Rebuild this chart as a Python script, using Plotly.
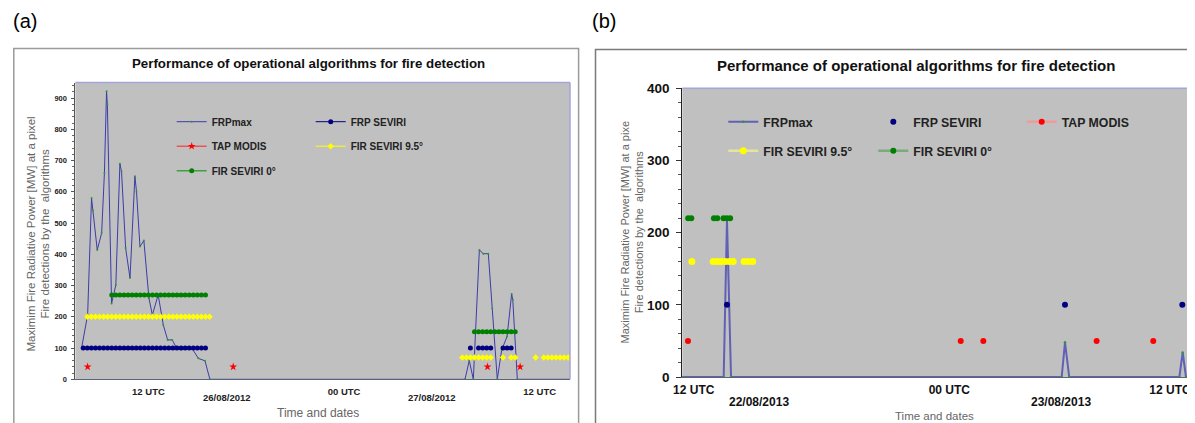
import plotly.graph_objects as go

# the page body adds an 8 px margin; the figure fills the rest of the 1195x423 window
OFF = 8
W, H = 1195 - OFF, 423 - OFF
FONT = "Liberation Sans, Arial, sans-serif"

# ---------------- Panel (a) data (x = hours after 12 UTC, 25/08/2012) ----------------
a_frp_t = [-4.1, -3.73, -3.49, -3.4, -3.14, -2.87, -2.7, -2.57, -2.52, -2.26, -2.0, -1.75, -1.65,
           -1.4, -1.13, -0.83, -0.73, -0.52, -0.28, 0.03, 0.24, 0.6, 0.91, 1.18, 1.46, 1.73, 2.03,
           2.44, 2.7, 3.06, 3.47, 3.77, 19.42, 19.68, 19.93, 20.3, 20.54, 20.85, 21.09, 21.4,
           21.67, 22.0, 22.28, 22.35, 22.63, 25.86]
a_frp_v = [100, 206, 580, 540, 414, 468, 660, 922, 880, 243, 302, 690, 665,
           420, 324, 650, 600, 425, 444, 260, 206, 270, 174, 126, 126, 100, 95,
           104, 97, 67, 59, 0, 0, 60, 0, 414, 402, 402, 227, 0,
           94, 137, 273, 255, 0, 0]

a_sev_t = [-4.0, -3.75, -3.5, -3.25, -3.0, -2.75, -2.5, -2.25, -2.0, -1.75, -1.5, -1.25, -1.0,
           -0.75, -0.5, -0.25, 0.0, 0.25, 0.5, 0.75, 1.0, 1.25, 1.5, 1.75, 2.0, 2.25, 2.5, 2.75,
           3.0, 3.25, 3.5, 11.0, 19.75, 20.0, 20.25, 20.5, 20.75, 21.0, 21.4, 21.75, 22.0, 22.25]
a_sev_v = [100, 100, 100, 100, 100, 100, 100, 100, 100, 100, 100, 100, 100,
           100, 100, 100, 100, 100, 100, 100, 100, 100, 100, 100, 100, 100, 100, 100,
           100, 100, 100, None, 100, None, 100, 100, 100, 100, None, 100, 100, 100]

a_tap_t = [-3.73, 0.7, 5.2, 13.0, 20.8, 21.8, 22.8]
a_tap_v = [40, None, 40, None, 40, None, 40]

a_fir95_t = [-3.75, -3.5, -3.25, -3.0, -2.75, -2.5, -2.25, -2.0, -1.75, -1.5, -1.25, -1.0, -0.75,
             -0.5, -0.25, 0.0, 0.25, 0.5, 0.75, 1.0, 1.25, 1.5, 1.75, 2.0, 2.25, 2.5, 2.75, 3.0,
             3.25, 3.5, 3.75, 11.0, 19.25, 19.5, 19.75, 20.0, 20.25, 20.5, 20.75, 21.0, 21.4,
             21.75, 22.0, 22.25, 22.5, 23.1, 23.75, 24.0, 24.25, 24.5, 24.75, 25.0, 25.25, 25.5, 25.75]
a_fir95_v = [200, 200, 200, 200, 200, 200, 200, 200, 200, 200, 200, 200, 200,
             200, 200, 200, 200, 200, 200, 200, 200, 200, 200, 200, 200, 200, 200, 200,
             200, 200, 200, None, 70, 70, 70, 70, 70, 70, 70, 70, None,
             70, None, 70, 70, None, 70, None, 70, 70, 70, 70, 70, 70, 70]

a_fir0_t = [-2.25, -2.0, -1.75, -1.5, -1.25, -1.0, -0.75, -0.5, -0.25, 0.0, 0.25, 0.5, 0.75, 1.0,
            1.25, 1.5, 1.75, 2.0, 2.25, 2.5, 2.75, 3.0, 3.25, 3.5, 11.0, 20.0, 20.25, 20.5, 20.75,
            21.0, 21.25, 21.5, 21.75, 22.0, 22.25, 22.5]
a_fir0_v = [270, 270, 270, 270, 270, 270, 270, 270, 270, 270, 270, 270, 270, 270,
            270, 270, 270, 270, 270, 270, 270, 270, 270, 270, None, 152, 152, 152, 152,
            152, 152, 152, 152, 152, 152, 152]

a_xtick_vals = [0, 12, 24]
a_xtick_text = ["12 UTC", "00 UTC", "12 UTC"]
a_date_pos = [4.8, 17.4]
a_date_text = ["26/08/2012", "27/08/2012"]
a_ytick_vals = [0, 100, 200, 300, 400, 500, 600, 700, 800, 900]

# ---------------- Panel (b) data (x = hours after 12 UTC, 22/08/2013) ----------------
b_frp_t = [-2.52, -0.27, -0.09, 0.13, 18.11, 18.29, 18.52, 24.51, 24.69, 24.87, 25.36]
b_frp_v = [0, 0, 218, 0, 0, 48, 0, 0, 34, 0, 0]

b_sev_t = [-0.09, 18.29, 24.67]
b_sev_v = [100, 100, 100]

b_tap_t = [-2.21, 5.0, 12.62, 13.2, 13.85, 17.0, 20.01, 21.5, 23.09]
b_tap_v = [50, None, 50, None, 50, None, 50, None, 50]

b_fir95_t = [-2.0, -1.4, -0.84, -0.62, -0.4, -0.18, 0.04, 0.25, 0.55, 0.84, 1.07, 1.31]
b_fir95_v = [160, None, 160, 160, 160, 160, 160, 160, None, 160, 160, 160]

b_fir0_t = [-2.2, -2.03, -1.4, -0.8, -0.62, -0.45, -0.28, -0.1, 0.08]
b_fir0_v = [220, 220, None, 220, 220, None, 220, 220, 220]

b_xtick_vals = [-1.9, 12, 24]
b_xtick_text = ["12 UTC", "00 UTC", "12 UTC"]
b_date_pos = [1.64, 18.06]
b_date_text = ["22/08/2013", "23/08/2013"]
b_ytick_vals = [0, 100, 200, 300, 400]


def px(x):
    """picture pixel x -> paper fraction"""
    return (x - OFF) / W


def py(y):
    """picture pixel y -> paper fraction"""
    return 1 - (y - OFF) / H


fig = go.Figure()

# ---- panel (a) traces ----
fig.add_trace(go.Scatter(x=a_frp_t, y=a_frp_v, name="FRPmax", mode="lines+markers",
                         line=dict(color="#3c3ca8", width=1),
                         marker=dict(color="#2e9a2e", size=2),
                         xaxis="x", yaxis="y", legend="legend", legendgroup="a1"))
fig.add_trace(go.Scatter(x=a_sev_t, y=a_sev_v, name="FRP SEVIRI", mode="lines+markers",
                         line=dict(color="#000080", width=1),
                         marker=dict(color="#000080", size=5),
                         xaxis="x", yaxis="y", legend="legend2", legendgroup="a2"))
fig.add_trace(go.Scatter(x=a_tap_t, y=a_tap_v, name="TAP MODIS", mode="lines+markers",
                         line=dict(color="#ff2020", width=1),
                         marker=dict(color="#ff0000", size=6, symbol="star"),
                         xaxis="x", yaxis="y", legend="legend", legendgroup="a3"))
fig.add_trace(go.Scatter(x=a_fir95_t, y=a_fir95_v, name="FIR SEVIRI 9.5°", mode="lines+markers",
                         line=dict(color="#ffff00", width=1),
                         marker=dict(color="#ffff00", size=5, symbol="diamond"),
                         xaxis="x", yaxis="y", legend="legend2", legendgroup="a4"))
fig.add_trace(go.Scatter(x=a_fir0_t, y=a_fir0_v, name="FIR SEVIRI 0°", mode="lines+markers",
                         line=dict(color="#40a040", width=1.5),
                         marker=dict(color="#008000", size=5),
                         xaxis="x", yaxis="y", legend="legend", legendgroup="a5"))

# ---- panel (b) traces ----
fig.add_trace(go.Scatter(x=b_frp_t, y=b_frp_v, name="FRPmax", mode="lines+markers",
                         line=dict(color="#6060b4", width=2),
                         marker=dict(color="#2e9a2e", size=2.5),
                         xaxis="x2", yaxis="y2", legend="legend3", legendgroup="b1"))
fig.add_trace(go.Scatter(x=b_sev_t, y=b_sev_v, name="FRP SEVIRI", mode="markers",
                         marker=dict(color="#000080", size=6),
                         xaxis="x2", yaxis="y2", legend="legend4", legendgroup="b2"))
fig.add_trace(go.Scatter(x=b_tap_t, y=b_tap_v, name="TAP MODIS", mode="lines+markers",
                         line=dict(color="#f09a9a", width=2.5),
                         marker=dict(color="#ff0000", size=6),
                         xaxis="x2", yaxis="y2", legend="legend5", legendgroup="b3"))
fig.add_trace(go.Scatter(x=b_fir95_t, y=b_fir95_v, name="FIR SEVIRI 9.5°", mode="lines+markers",
                         line=dict(color="#e4e49c", width=2.5),
                         marker=dict(color="#ffff00", size=7),
                         xaxis="x2", yaxis="y2", legend="legend3", legendgroup="b4"))
fig.add_trace(go.Scatter(x=b_fir0_t, y=b_fir0_v, name="FIR SEVIRI 0°", mode="lines+markers",
                         line=dict(color="#78ac78", width=2.5),
                         marker=dict(color="#008000", size=6),
                         xaxis="x2", yaxis="y2", legend="legend4", legendgroup="b5"))

a_leg_font = dict(family=FONT, size=10, color="#222222", weight="bold")
b_leg_font = dict(family=FONT, size=12.3, color="#222222", weight="bold")
leg_common = dict(bgcolor="rgba(0,0,0,0)", borderwidth=0, xanchor="left", yanchor="top",
                  traceorder="grouped", orientation="v")

fig.update_layout(
    template="none",
    width=W, height=H,
    margin=dict(l=0, r=0, t=0, b=0, pad=0, autoexpand=False),
    paper_bgcolor="white",
    plot_bgcolor="#c0c0c0",
    showlegend=True,
    legend=dict(x=px(171.7), y=py(107.2), font=a_leg_font, tracegroupgap=5.5, **leg_common),
    legend2=dict(x=px(310.7), y=py(107.2), font=a_leg_font, tracegroupgap=5.5, **leg_common),
    legend3=dict(x=px(723.3), y=py(107.2), font=b_leg_font, tracegroupgap=10, **leg_common),
    legend4=dict(x=px(873.3), y=py(107.2), font=b_leg_font, tracegroupgap=10, **leg_common),
    legend5=dict(x=px(1021.7), y=py(107.2), font=b_leg_font, tracegroupgap=10, **leg_common),
    xaxis=dict(domain=[px(75.4), px(570)], range=[-4.48, 25.86], showgrid=False, zeroline=False,
               anchor="y", automargin=False,
               showline=True, linecolor="#5a6478", linewidth=1,
               tickvals=a_xtick_vals, ticktext=a_xtick_text, ticks="", ticklabelstandoff=3,
               tickfont=dict(family=FONT, size=9.5, color="#222222", weight="bold")),
    yaxis=dict(domain=[py(379.3), py(82.5)], range=[0, 950], showgrid=False, zeroline=False,
               anchor="x", automargin=False,
               showline=True, linecolor="#555555", linewidth=1,
               tickvals=a_ytick_vals, ticks="outside", ticklen=3, tickcolor="#555555",
               ticklabelstandoff=3,
               minor=dict(dtick=20, ticks="outside", ticklen=2, tickcolor="#666666"),
               tickfont=dict(family=FONT, size=7.5, color="#222222", weight="bold")),
    xaxis2=dict(domain=[px(682.3), 1.0], range=[-2.52, 25.36], showgrid=False,
                zeroline=False, anchor="y2", automargin=False,
                showline=True, linecolor="#5a6478", linewidth=1,
                tickvals=b_xtick_vals, ticktext=b_xtick_text, ticks="", ticklabelstandoff=2,
                tickfont=dict(family=FONT, size=12, color="#111111", weight="bold")),
    yaxis2=dict(domain=[py(377), py(88.3)], range=[0, 400], showgrid=False, zeroline=False,
                anchor="x2", automargin=False,
                showline=True, linecolor="#222222", linewidth=1,
                tickvals=b_ytick_vals, ticks="outside", ticklen=5, tickcolor="#333333",
                ticklabelstandoff=4,
                minor=dict(dtick=20, ticks="outside", ticklen=3, tickcolor="#555555"),
                tickfont=dict(family=FONT, size=13.5, color="#111111", weight="bold")),
)

# frames and plot-area borders (decorative)
shapes = [
    dict(type="rect", xref="paper", yref="paper", x0=px(13.8), x1=px(578.6), y0=py(440), y1=py(48.5),
         line=dict(color="#9a9a9a", width=1.5), fillcolor="rgba(0,0,0,0)", layer="below"),
    dict(type="rect", xref="paper", yref="paper", x0=px(595.5), x1=px(1210), y0=py(440), y1=py(49.5),
         line=dict(color="#7a7a7a", width=1.5), fillcolor="rgba(0,0,0,0)", layer="below"),
    dict(type="line", xref="paper", yref="paper", x0=px(75.4), x1=px(570), y0=py(82.5), y1=py(82.5),
         line=dict(color="#a4a4dc", width=1.5)),
    dict(type="line", xref="paper", yref="paper", x0=px(570), x1=px(570), y0=py(82.5), y1=py(379.3),
         line=dict(color="#a4a4dc", width=1.5)),
    dict(type="line", xref="paper", yref="paper", x0=px(682.3), x1=1.0, y0=py(88.3), y1=py(88.3),
         line=dict(color="#a4a4dc", width=1.5)),
]
fig.update_layout(shapes=shapes)

CM = dict(showarrow=False, xanchor="center", yanchor="middle")
ann = []
ann.append(dict(text="(a)", x=px(25), y=py(21), xref="paper", yref="paper",
                font=dict(family=FONT, size=20, color="#000000"), **CM))
ann.append(dict(text="(b)", x=px(604), y=py(21), xref="paper", yref="paper",
                font=dict(family=FONT, size=20, color="#000000"), **CM))
ann.append(dict(text="Performance of operational algorithms for fire detection", x=px(309), y=py(64),
                xref="paper", yref="paper",
                font=dict(family=FONT, size=13.3, color="#111111", weight="bold"), **CM))
ann.append(dict(text="Performance of operational algorithms for fire detection", x=px(915.5), y=py(65),
                xref="paper", yref="paper",
                font=dict(family=FONT, size=15, color="#111111", weight="bold"), **CM))
ann.append(dict(text="Maximim Fire Radiative Power [MW] at a pixel<br>Fire detections by the  algorithms",
                x=px(37.5), y=py(234), xref="paper", yref="paper", textangle=-90,
                font=dict(family=FONT, size=11.5, color="#666666"), **CM))
ann.append(dict(text="Maximim Fire Radiative Power [MW] at a pixe<br>Fire detections by the  algorithms",
                x=px(631.5), y=py(232), xref="paper", yref="paper", textangle=-90,
                font=dict(family=FONT, size=11, color="#666666"), **CM))
for pos, txt in zip(a_date_pos, a_date_text):
    ann.append(dict(text=txt, x=pos, y=py(397.5), xref="x", yref="paper",
                    font=dict(family=FONT, size=9.5, color="#222222", weight="bold"), **CM))
for pos, txt in zip(b_date_pos, b_date_text):
    ann.append(dict(text=txt, x=pos, y=py(401.7), xref="x2", yref="paper",
                    font=dict(family=FONT, size=12, color="#111111", weight="bold"), **CM))
ann.append(dict(text="Time and dates", x=px(318.4), y=py(413.3), xref="paper", yref="paper",
                font=dict(family=FONT, size=12, color="#666666"), **CM))
ann.append(dict(text="Time and dates", x=px(934.5), y=py(416), xref="paper", yref="paper",
                font=dict(family=FONT, size=11.5, color="#666666"), **CM))
fig.update_layout(annotations=ann)

fig.write_html("out.html")
